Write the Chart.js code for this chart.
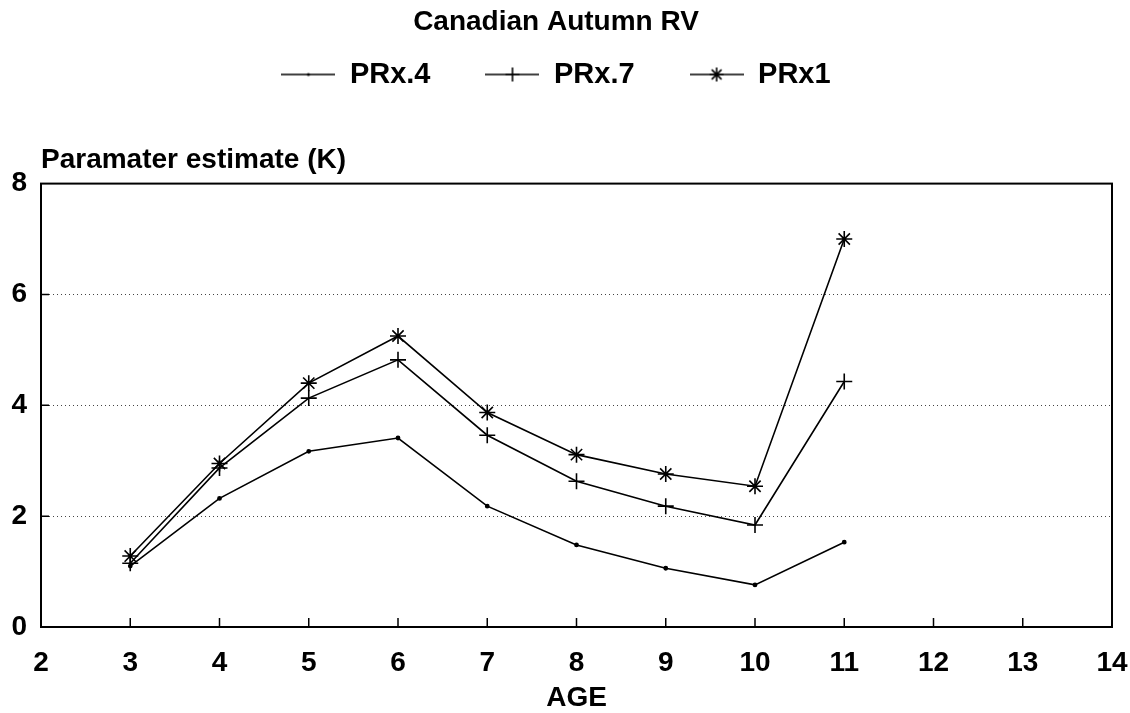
<!DOCTYPE html>
<html>
<head>
<meta charset="utf-8">
<script src="https://cdn.jsdelivr.net/npm/chart.js@4.4.0/dist/chart.umd.min.js"></script>
<style>
  html, body { margin: 0; padding: 0; background: #fff; }
  #wrap { width: 1130px; height: 713px; }
</style>
</head>
<body>
<div id="wrap"><canvas id="chart" width="1130" height="713"></canvas></div>
<script>
// values
const ages = [3, 4, 5, 6, 7, 8, 9, 10, 11];
const prx4 = [1.10, 2.32, 3.17, 3.41, 2.18, 1.48, 1.06, 0.76, 1.53];
const prx7 = [1.15, 2.87, 4.13, 4.82, 3.46, 2.63, 2.18, 1.84, 4.43];
const prx1 = [1.28, 2.95, 4.40, 5.25, 3.87, 3.11, 2.76, 2.54, 7.00];
const seriesNames = ["PRx.4", "PRx.7", "PRx1"];

const chartTitle = "Canadian Autumn RV";
const yTitle = "Paramater estimate (K)";
const xTitle = "AGE";

const FONT = "'Liberation Sans', Arial, Helvetica, sans-serif";
const INK = "#000";

function toPoints(values) {
  return ages.map((a, i) => ({ x: a, y: values[i] }));
}

// small line + marker sample for the legend
function legendIcon(style) {
  const c = document.createElement("canvas");
  c.width = 54; c.height = 20;
  const ctx = c.getContext("2d");
  ctx.strokeStyle = INK; ctx.fillStyle = INK; ctx.lineWidth = 1.6;
  ctx.beginPath(); ctx.moveTo(0, 10); ctx.lineTo(54, 10); ctx.stroke();
  const cx = 27, cy = 10, r = 7;
  ctx.beginPath();
  if (style === "cross" || style === "star") {
    ctx.moveTo(cx - r, cy); ctx.lineTo(cx + r, cy);
    ctx.moveTo(cx, cy - r); ctx.lineTo(cx, cy + r);
  }
  if (style === "star") {
    const d = r * 0.7;
    ctx.moveTo(cx - d, cy - d); ctx.lineTo(cx + d, cy + d);
    ctx.moveTo(cx - d, cy + d); ctx.lineTo(cx + d, cy - d);
  }
  ctx.stroke();
  if (style === "circle") { ctx.beginPath(); ctx.arc(cx, cy, 1.5, 0, Math.PI * 2); ctx.fill(); }
  return c;
}

const icons = [legendIcon("circle"), legendIcon("cross"), legendIcon("star")];

const frame = {
  id: "frame",
  beforeDatasetsDraw(chart) {
    const { ctx, chartArea: a, scales: { x, y } } = chart;
    ctx.save();
    ctx.strokeStyle = INK;
    ctx.lineWidth = 2;
    ctx.strokeRect(a.left, a.top, a.right - a.left, a.bottom - a.top);
    ctx.lineWidth = 1.5;
    ctx.beginPath();
    x.ticks.forEach(t => {
      if (t.value > x.min && t.value < x.max) {
        const px = x.getPixelForValue(t.value);
        ctx.moveTo(px, a.bottom); ctx.lineTo(px, a.bottom - 9);
      }
    });
    y.ticks.forEach(t => {
      if (t.value > y.min && t.value < y.max) {
        const py = y.getPixelForValue(t.value);
        ctx.moveTo(a.left, py); ctx.lineTo(a.left + 8, py);
      }
    });
    ctx.stroke();
    ctx.restore();
  }
};

function lineSet(label, values, style, radius) {
  return {
    label,
    data: toPoints(values),
    borderColor: INK,
    backgroundColor: INK,
    borderWidth: 1.6,
    pointStyle: style,
    pointRadius: radius,
    pointBorderWidth: 1.6,
    pointBorderColor: INK,
    pointBackgroundColor: INK,
    tension: 0
  };
}

new Chart(document.getElementById("chart"), {
  type: "line",
  data: {
    datasets: [
      lineSet(seriesNames[0], prx4, "circle", 1.6),
      lineSet(seriesNames[1], prx7, "cross", 8),
      lineSet(seriesNames[2], prx1, "star", 8)
    ]
  },
  options: {
    responsive: false,
    animation: false,
    layout: { padding: { left: 0, right: 18, top: 0, bottom: 0 } },
    plugins: {
      title: {
        display: true, text: chartTitle, color: INK,
        font: { family: FONT, size: 28, weight: "bold" },
        // negative bottom lets the legend's wide item padding sit over the title
        padding: { top: 5, bottom: -33.6 }
      },
      legend: {
        display: true,
        labels: {
          usePointStyle: true,
          pointStyleWidth: 54,
          padding: 55,
          color: INK,
          font: { family: FONT, size: 29, weight: "bold" },
          generateLabels: chart => chart.data.datasets.map((ds, i) => ({
            text: ds.label,
            pointStyle: icons[i],
            fillStyle: INK,
            strokeStyle: INK,
            fontColor: INK,
            lineWidth: 0,
            hidden: false,
            datasetIndex: i
          }))
        }
      },
      subtitle: {
        display: true, text: yTitle, align: "start", fullSize: false,
        position: "top", weight: 500, color: INK,
        font: { family: FONT, size: 28, weight: "bold" },
        padding: { top: 44, bottom: 7 }
      },
      tooltip: { enabled: false }
    },
    scales: {
      x: {
        type: "linear", min: 2, max: 14,
        ticks: { stepSize: 1, color: INK, padding: 19, font: { family: FONT, size: 28, weight: "bold" } },
        grid: { display: false, drawTicks: false },
        border: { display: false },
        title: {
          display: true, text: xTitle, color: INK, padding: { top: 0, bottom: -2 },
          font: { family: FONT, size: 28, weight: "bold" }
        },
        afterFit(scale) {
          scale.height = 86;
          scale.paddingLeft = 0;
          scale.paddingRight = 0;
        }
      },
      y: {
        min: 0, max: 8,
        ticks: { stepSize: 2, color: INK, padding: 14, font: { family: FONT, size: 28, weight: "bold" } },
        grid: {
          drawTicks: false,
          lineWidth: 1,
          color: ctx => (ctx.tick && (ctx.tick.value === 0 || ctx.tick.value === 8)) ? "rgba(0,0,0,0)" : "#444"
        },
        border: { display: false, dash: [1, 3] },
        afterFit(scale) { scale.width = 41; }
      }
    }
  },
  plugins: [frame]
});
</script>
</body>
</html>
